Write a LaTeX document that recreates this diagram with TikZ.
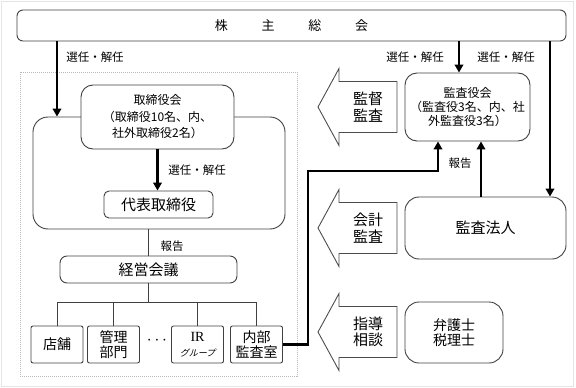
\documentclass[tikz,border=0pt]{standalone}
\usepackage{fontspec}
\setmainfont{Noto Sans CJK JP}
\newfontfamily\irfont{Liberation Serif}
\newfontfamily\slantfont[FakeSlant=0.25]{Noto Sans CJK JP}
\usepackage{tikz}
\usetikzlibrary{arrows.meta, positioning, calc}

\begin{document}
\begin{tikzpicture}[
	x=1pt, y=-1pt,
	box/.style={draw=black!75, line width=0.9pt, align=center, inner sep=0pt, rounded corners=#1},
	box/.default=12pt,
	thickarrow/.style={line width=2.5pt, -{Triangle[length=8pt,width=8.5pt]}},
	link/.style={draw=black!75, line width=0.9pt},
	lbl/.style={font=\fontsize{11.5}{13}\selectfont},
	blockarrow/.style={draw=black!70, line width=0.9pt}
	]
	\useasboundingbox (0,0) rectangle (576,388);
	\draw[gray!20] (1,1) rectangle (573.5,386);

	\node[box=6pt, minimum width=549pt, minimum height=31pt, font=\fontsize{13}{13}\selectfont] (soukai) at (291.5,25.5) {株\hspace{33.7pt}主\hspace{33.7pt}総\hspace{33.7pt}会};

	% left block
	\draw[gray!55, line width=1pt, densely dotted] (20,72) rectangle (297,376);
	\node[box=15pt, minimum width=252pt, minimum height=112pt] (board) at (159,173) {};
	\node[box, fill=white, minimum width=153pt, minimum height=64pt, font=\fontsize{12}{16.5}\selectfont] (tori) at (157.5,117) {取締役会\\（取締役10名、内、\\社外取締役2名）};
	\node[box=5pt, minimum width=109pt, minimum height=27pt, font=\fontsize{15}{15}\selectfont] (daihyo) at (158.5,204.5) {代表取締役};
	\node[box=7pt, minimum width=177pt, minimum height=27pt, font=\fontsize{15}{15}\selectfont] (keiei) at (148.5,269.5) {経営会議};
	\foreach \n/\x/\t in {tenpo/57/{店舗}, kanri/113.5/{管理\\部門}, ir/197.5/{{\irfont IR}\\{\slantfont\fontsize{9}{10}\selectfont グループ}}, naibu/256.5/{内部\\監査室}}
		\node[box=2pt, minimum width=52pt, minimum height=37pt, font=\fontsize{14}{15}\selectfont] (\n) at (\x,344.5) {\t};
	\node[font=\fontsize{17}{17}\selectfont] (dots) at (157,341) {$\cdots$};

	% right block
	\node[box, minimum width=125pt, minimum height=68pt, font=\fontsize{12}{14}\selectfont] (kansa) at (467.5,107) {監査役会\\（監査役3名、内、社\\外監査役3名）};
	\node[box=14pt, minimum width=161pt, minimum height=62pt, font=\fontsize{15}{15}\selectfont] (houjin) at (485.5,228) {監査法人};
	\node[box=14pt, minimum width=98pt, minimum height=61pt, font=\fontsize{14}{15}\selectfont] (bengo) at (454,332.5) {弁護士\\税理士};

	\foreach \n/\c/\t in {kantoku/107/{監督\\監査}, kaikei/228/{会計\\監査}, shidou/332/{指導\\相談}}{
		\draw[blockarrow] (318,\c) -- (339,\c-38.5) -- (339,\c-25.5) -- (397,\c-25.5) -- (397,\c+25.5) -- (339,\c+25.5) -- (339,\c+38.5) -- cycle;
		\node[align=center, font=\fontsize{15}{16.5}\selectfont] (\n) at (368,\c) {\t};
	}

	% connectors
	\coordinate (selL) at (57,0);
	\coordinate (k1) at ([xshift=-8.5pt]kansa.north);
	\coordinate (k2) at ([xshift=64.5pt]houjin.north);
	\coordinate (k3) at ([xshift=-4.5pt]houjin.north);
	\coordinate (k4) at ([xshift=-29.5pt]kansa.south);
	\coordinate (bend) at (308,171);

	\draw[thickarrow] (soukai.south -| selL) -- (board.north -| selL);
	\draw[thickarrow] (tori.south) -- (tori.south |- daihyo.north);
	\draw[link] (keiei.north |- board.south) -- (keiei.north);
	\foreach \n in {tenpo,kanri,ir,naibu}
		\draw[link] (keiei.south) -- ++(0,19) -| (\n.north);
	\draw[thickarrow] (naibu.east) -| (bend) -| (k4);
	\draw[thickarrow] (k1 |- soukai.south) -- (k1);
	\draw[thickarrow] (k2 |- soukai.south) -- (k2);
	\draw[thickarrow] (k3) -- (k3 |- kansa.south);

	\node[lbl] (sel1) at (95,57) {選任・解任};
	\node[lbl] (sel2) at (197,170) {選任・解任};
	\node[lbl] (sel3) at (415,57) {選任・解任};
	\node[lbl] (sel4) at (506,57) {選任・解任};
	\node[lbl] (rep1) at (172,246) {報告};
	\node[lbl] (rep2) at (460,163) {報告};
\end{tikzpicture}
\end{document}
